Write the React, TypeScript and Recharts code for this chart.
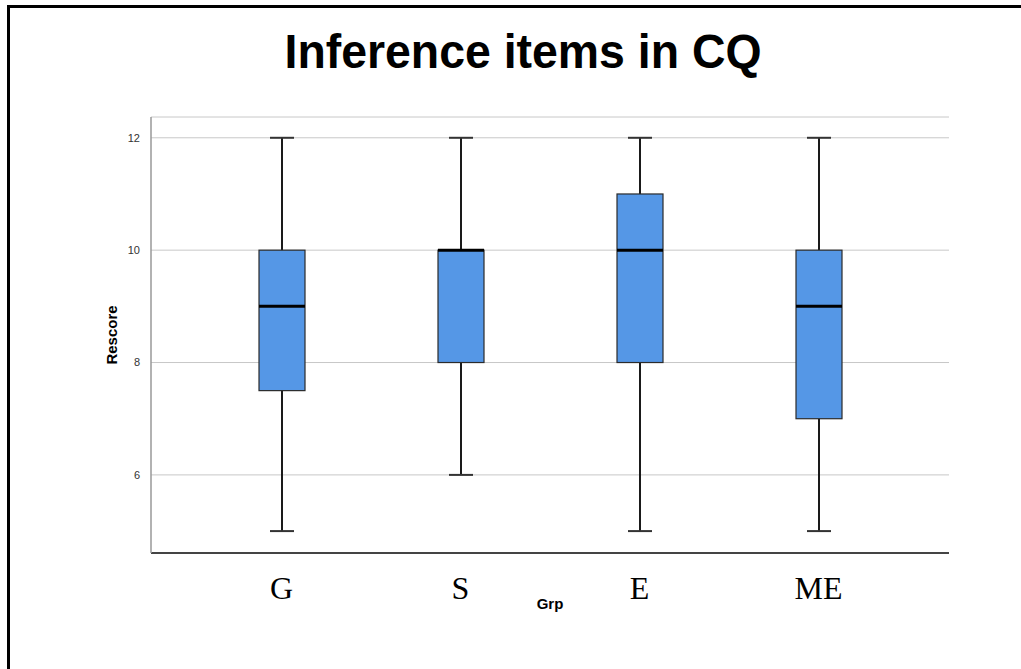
import { ComposedChart, Bar, XAxis, YAxis, CartesianGrid } from "recharts"

const categories = ["G", "S", "E", "ME"]
const minVals = [5, 6, 5, 5]
const q1Vals = [7.5, 8, 8, 7]
const medianVals = [9, 10, 10, 9]
const q3Vals = [10, 10, 11, 10]
const maxVals = [12, 12, 12, 12]
const yTicks = [6, 8, 10, 12]

const data = categories.map((grp, i) => ({
  grp,
  range: [minVals[i], maxVals[i]],
  min: minVals[i],
  q1: q1Vals[i],
  median: medianVals[i],
  q3: q3Vals[i],
  max: maxVals[i],
}))

function BoxShape(props: any) {
  const { x, y, width, height, payload } = props
  const top = Math.min(y, y + height)
  const bottom = Math.max(y, y + height)
  const span = payload.max - payload.min
  const toPx = (v: number) => top + ((bottom - top) * (payload.max - v)) / span
  const cx = x + width / 2
  const cap = 12
  const yMax = toPx(payload.max)
  const yQ3 = toPx(payload.q3)
  const yMed = toPx(payload.median)
  const yQ1 = toPx(payload.q1)
  const yMin = toPx(payload.min)
  return (
    <g>
      <line x1={cx} x2={cx} y1={yMax} y2={yQ3} stroke="#1a1a1a" strokeWidth={2} />
      <line x1={cx} x2={cx} y1={yQ1} y2={yMin} stroke="#1a1a1a" strokeWidth={2} />
      <line x1={cx - cap} x2={cx + cap} y1={yMax} y2={yMax} stroke="#333" strokeWidth={2} />
      <line x1={cx - cap} x2={cx + cap} y1={yMin} y2={yMin} stroke="#333" strokeWidth={2} />
      <rect x={x} y={yQ3} width={width} height={yQ1 - yQ3} fill="#5597E6" stroke="#2b2b2b" strokeWidth={1.2} />
      <line x1={x} x2={x + width} y1={yMed} y2={yMed} stroke="#000" strokeWidth={3} />
    </g>
  )
}

const GrpTick = (props: any) => {
  const { x, y, payload } = props
  return (
    <text x={x} y={y + 38} textAnchor="middle" fontFamily="'Liberation Serif', 'Times New Roman', serif" fontSize={32} fill="#000">
      {payload.value}
    </text>
  )
}

export default function App() {
  return (
    <div style={{ position: "absolute", left: 0, top: 0, width: 1021, height: 669, background: "#fff", overflow: "hidden" }}>
      <style>{"html,body{margin:0;overflow:hidden}"}</style>
      <svg width={1021} height={669} style={{ position: "absolute", left: 0, top: 0 }}>
        <line x1={8.5} x2={8.5} y1={5} y2={669} stroke="#000" strokeWidth={3} />
        <line x1={7} x2={1021} y1={6.5} y2={6.5} stroke="#000" strokeWidth={3} />
        <text
          x={523}
          y={68}
          textAnchor="middle"
          fontFamily="'Liberation Sans', Arial, sans-serif"
          fontWeight="bold"
          fontSize={48}
          textLength={477}
          lengthAdjust="spacingAndGlyphs"
          fill="#000"
        >
          Inference items in CQ
        </text>
      </svg>
      <div style={{ position: "absolute", left: 0, top: 0 }}>
        <ComposedChart
          width={1021}
          height={669}
          data={data}
          margin={{ top: 117, right: 72, bottom: 115, left: 150 }}
        >
          <CartesianGrid horizontal vertical={false} stroke="#c8c8c8" strokeWidth={1} />
          <XAxis
            dataKey="grp"
            height={1}
            padding={{ left: 41, right: 41 }}
            axisLine={{ stroke: "#444", strokeWidth: 2 }}
            tickLine={false}
            tick={<GrpTick />}
            interval={0}
          />
          <YAxis
            width={1}
            domain={[4.61, 12.37]}
            ticks={yTicks}
            allowDataOverflow
            axisLine={{ stroke: "#999", strokeWidth: 1.5 }}
            tickLine={false}
            tickMargin={5}
            tick={{ fontSize: 11, fill: "#333", fontFamily: "'Liberation Sans', Arial, sans-serif" }}
          />
          <Bar dataKey="range" barSize={46} shape={<BoxShape />} isAnimationActive={false} />
        </ComposedChart>
      </div>
      <div
        style={{
          position: "absolute",
          left: 111,
          top: 335,
          transform: "translate(-50%, -50%) rotate(-90deg)",
          fontFamily: "'Liberation Sans', Arial, sans-serif",
          fontWeight: "bold",
          fontSize: 15,
          whiteSpace: "nowrap",
        }}
      >
        Rescore
      </div>
      <div
        style={{
          position: "absolute",
          left: 550,
          top: 603,
          transform: "translate(-50%, -50%)",
          fontFamily: "'Liberation Sans', Arial, sans-serif",
          fontWeight: "bold",
          fontSize: 15,
          whiteSpace: "nowrap",
        }}
      >
        Grp
      </div>
    </div>
  )
}
